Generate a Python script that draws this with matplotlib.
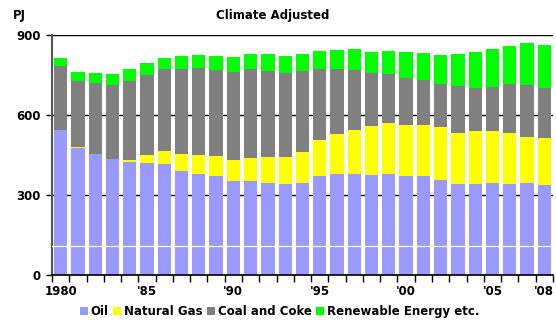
import matplotlib
matplotlib.use("Agg")
import matplotlib.pyplot as plt
import numpy as np

years = list(range(1980, 2009))
oil = [544, 476, 454, 435, 424, 420, 416, 390, 379, 371, 352, 352, 345, 341, 345,
       371, 379, 379, 375, 379, 371, 371, 356, 341, 341, 345, 341, 345, 338]
gas_top = [544, 480, 454, 435, 431, 450, 465, 454, 450, 446, 431, 439, 442, 442, 461,
           506, 529, 544, 559, 570, 562, 562, 555, 532, 540, 540, 532, 518, 514]
coal_top = [784, 727, 720, 712, 727, 750, 772, 772, 776, 769, 761, 772, 765, 757, 765,
            772, 772, 769, 757, 754, 739, 731, 716, 709, 701, 705, 716, 712, 701]
total = [814, 761, 757, 754, 772, 795, 814, 821, 825, 821, 817, 829, 829, 821, 829,
         840, 844, 847, 836, 840, 836, 832, 825, 829, 836, 847, 859, 870, 862]

oil = np.array(oil)
gas = np.array(gas_top) - oil
coal = np.array(coal_top) - np.array(gas_top)
renew = np.array(total) - np.array(coal_top)

labels = ["Oil", "Natural Gas", "Coal and Coke", "Renewable Energy etc."]
colors = ["#9999FF", "#FFFF00", "#808080", "#00FF00"]
tick_years = {1980: "1980", 1985: "'85", 1990: "'90", 1995: "'95",
              2000: "'00", 2005: "'05", 2008: "'08"}

plt.rcParams["font.family"] = "DejaVu Sans"
fig = plt.figure(figsize=(5.56, 3.2), dpi=100)
ax = fig.add_axes([0.0935, 0.1406, 0.901, 0.75])

x = np.arange(len(years))
bottom = np.zeros(len(years))
handles = []
for vals, lab, col in zip([oil, gas, coal, renew], labels, colors):
    b = ax.bar(x, vals, bottom=bottom, width=0.77, color=col, label=lab, zorder=2)
    handles.append(b)
    bottom = bottom + vals

ax.set_xlim(-0.5, len(years) - 0.5)
ax.set_ylim(0, 900)
ax.set_yticks([0, 300, 600, 900])
ax.yaxis.grid(True, color="black", linewidth=1.0, zorder=0)
ax.set_axisbelow(True)
ax.axhline(108, color="white", linewidth=0.9, zorder=3)

# tick marks at category boundaries, labels under selected years
ax.set_xticks(np.arange(len(years) + 1) - 0.5)
ax.set_xticklabels([])
ax.tick_params(axis="x", which="major", length=5, width=1, direction="out", color="black")
centers = [years.index(y) for y in tick_years]
ax.set_xticks(centers, minor=True)
ax.set_xticklabels(list(tick_years.values()), minor=True, fontsize=8.5, fontweight="bold")
ax.tick_params(axis="x", which="minor", length=0, pad=7)
ax.tick_params(axis="y", length=4, width=1, labelsize=8.5, pad=4)
for t in ax.get_yticklabels():
    t.set_fontweight("bold")

for s in ["top", "right"]:
    ax.spines[s].set_visible(False)
ax.spines["left"].set_color("#555555")
ax.spines["left"].set_linewidth(1.5)
ax.spines["bottom"].set_color("black")
ax.spines["bottom"].set_linewidth(1.2)

fig.text(0.49, 0.95, "Climate Adjusted", ha="center", va="center",
         fontsize=8.5, fontweight="bold")
fig.text(0.024, 0.95, "PJ", ha="left", va="center", fontsize=8.5, fontweight="bold")

fig.legend(handles, labels, loc="center", bbox_to_anchor=(0.503, 0.026), ncol=4,
           frameon=False, handlelength=0.7, handleheight=0.7, handletextpad=0.25,
           columnspacing=0.35, prop={"size": 8.5, "weight": "bold"}, borderaxespad=0)

fig.savefig("out.png", dpi=100)
